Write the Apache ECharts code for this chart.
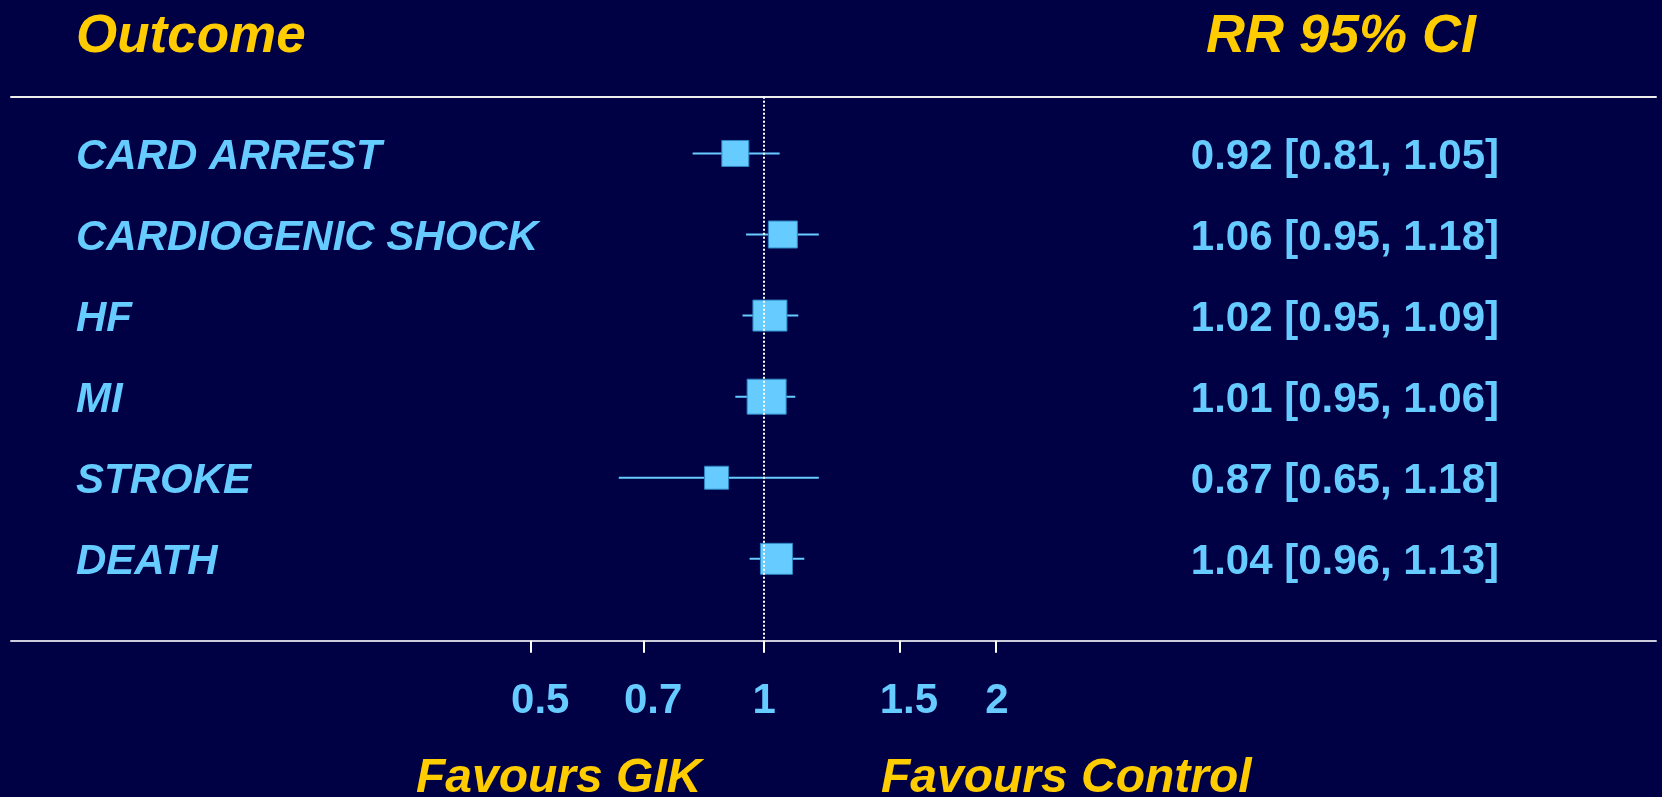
<!DOCTYPE html>
<html>
<head>
<meta charset="utf-8">
<script src="https://cdn.jsdelivr.net/npm/echarts@6/dist/echarts.min.js"></script>
<style>
html,body{margin:0;padding:0;background:#000044;}
#chart{width:1662px;height:797px;}
</style>
</head>
<body>
<div id="chart"></div>
<script>
// ---- data ----
const outcomes = ['CARD ARREST', 'CARDIOGENIC SHOCK', 'HF', 'MI', 'STROKE', 'DEATH'];
const rr       = [0.92, 1.06, 1.02, 1.01, 0.87, 1.04];
const ciLow    = [0.81, 0.95, 0.94, 0.92, 0.65, 0.96];
const ciHigh   = [1.05, 1.18, 1.11, 1.10, 1.18, 1.13];
const rrText   = ['0.92 [0.81, 1.05]', '1.06 [0.95, 1.18]', '1.02 [0.95, 1.09]',
                  '1.01 [0.95, 1.06]', '0.87 [0.65, 1.18]', '1.04 [0.96, 1.13]'];
const tickValues = [0.5, 0.7, 1, 1.5, 2];
const tickLabels = ['0.5', '0.7', '1', '1.5', '2'];

// ---- styling ----
const boxSize = [[27, 26], [29, 27], [34, 31], [39, 35], [24, 23], [32, 31]];
const FONT = "'Liberation Sans', Arial, sans-serif";
const BLUE = '#66CCFF';
const GOLD = '#FFCC00';
const tickText = { color: BLUE, fontSize: 42, fontWeight: 'bold', fontFamily: FONT, lineHeight: 42 };

const rowIdx = outcomes.map((_, i) => i);
const seriesData = rowIdx.map(i => [ciLow[i], ciHigh[i], rr[i], i]);

const chart = echarts.init(document.getElementById('chart'));
const yCommon = {
  type: 'value', inverse: true, min: -0.70, max: 6.01,
  axisLine: { show: false, onZero: false }, axisTick: { show: false },
  splitLine: { show: false }
};
chart.setOption({
  animation: false,
  backgroundColor: '#000044',
  grid: { left: 11, right: 6, top: 96.7, bottom: 156.3, containLabel: false },
  xAxis: [
    {
      type: 'log', logBase: 10, min: 0.1062, max: 14.31, position: 'bottom',
      axisLine: { show: true, onZero: false, lineStyle: { color: '#CCCCDD', width: 2 } },
      axisTick: { show: true, customValues: tickValues, length: 12, lineStyle: { color: '#FFFFFF', width: 2 } },
      axisLabel: Object.assign({
        show: true, customValues: tickValues, margin: 40,
        formatter: v => {
          let best = 0;
          tickValues.forEach((t, k) => { if (Math.abs(t - v) < Math.abs(tickValues[best] - v)) best = k; });
          const s = tickLabels[best];
          return s.length > 1 ? '{m|' + s + '}' : '{s|' + s + '}';
        },
        rich: {
          m: Object.assign({ padding: [0, 0, 0, 19] }, tickText),
          s: Object.assign({ padding: [0, 0, 0, 2] }, tickText)
        }
      }, tickText),
      splitLine: { show: false }
    },
    {
      type: 'log', logBase: 10, min: 0.1062, max: 14.31, position: 'top',
      axisLine: { show: true, onZero: false, lineStyle: { color: '#EEEEEE', width: 2 } },
      axisTick: { show: false }, axisLabel: { show: false }, splitLine: { show: false }
    }
  ],
  yAxis: [
    Object.assign({}, yCommon, {
      position: 'left',
      axisLabel: {
        show: true, inside: true, margin: 65, customValues: rowIdx,
        verticalAlign: 'top', lineHeight: 7,
        color: BLUE, fontSize: 42, fontWeight: 'bold', fontStyle: 'italic', fontFamily: FONT,
        formatter: v => outcomes[Math.round(v)]
      }
    }),
    Object.assign({}, yCommon, {
      position: 'right',
      axisLabel: {
        show: true, inside: true, margin: 157, customValues: rowIdx,
        verticalAlign: 'top', lineHeight: 7,
        color: BLUE, fontSize: 42, fontWeight: 'bold', fontFamily: FONT,
        formatter: v => rrText[Math.round(v)]
      }
    })
  ],
  graphic: [
    { type: 'text', x: 76, y: 37, style: { text: 'Outcome', fill: GOLD, font: "italic bold 53px 'Liberation Sans', Arial, sans-serif", textVerticalAlign: 'middle' } },
    { type: 'text', x: 1206, y: 37, style: { text: 'RR 95% CI', fill: GOLD, font: "italic bold 54px 'Liberation Sans', Arial, sans-serif", textVerticalAlign: 'middle' } },
    { type: 'text', x: 416, y: 779, style: { text: 'Favours GIK', fill: GOLD, font: "italic bold 48px 'Liberation Sans', Arial, sans-serif", textVerticalAlign: 'middle' } },
    { type: 'text', x: 881, y: 779, style: { text: 'Favours Control', fill: GOLD, font: "italic bold 48px 'Liberation Sans', Arial, sans-serif", textVerticalAlign: 'middle' } }
  ],
  series: [
    {
      type: 'custom', xAxisIndex: 0, yAxisIndex: 0, z: 2,
      encode: { x: [0, 1, 2], y: 3 },
      data: seriesData,
      renderItem: (params, api) => {
        const y = api.value(3);
        const p1 = api.coord([api.value(0), y]);
        const p2 = api.coord([api.value(1), y]);
        const c = api.coord([api.value(2), y]);
        const s = boxSize[params.dataIndex];
        return {
          type: 'group',
          children: [
            { type: 'line', shape: { x1: p1[0], y1: p1[1], x2: p2[0], y2: p2[1] }, style: { stroke: BLUE, lineWidth: 2 } },
            { type: 'rect', shape: { x: c[0] - s[0] / 2, y: c[1] - s[1] / 2, width: s[0], height: s[1] }, style: { fill: BLUE, stroke: '#2E86C1', lineWidth: 1 } }
          ]
        };
      }
    },
    {
      type: 'line', xAxisIndex: 0, yAxisIndex: 0, z: 5, data: [],
      markLine: {
        silent: true, symbol: 'none', label: { show: false },
        lineStyle: { color: '#FFFFFF', width: 2, type: [2, 2] },
        data: [{ xAxis: 1 }]
      }
    }
  ]
});
</script>
</body>
</html>
